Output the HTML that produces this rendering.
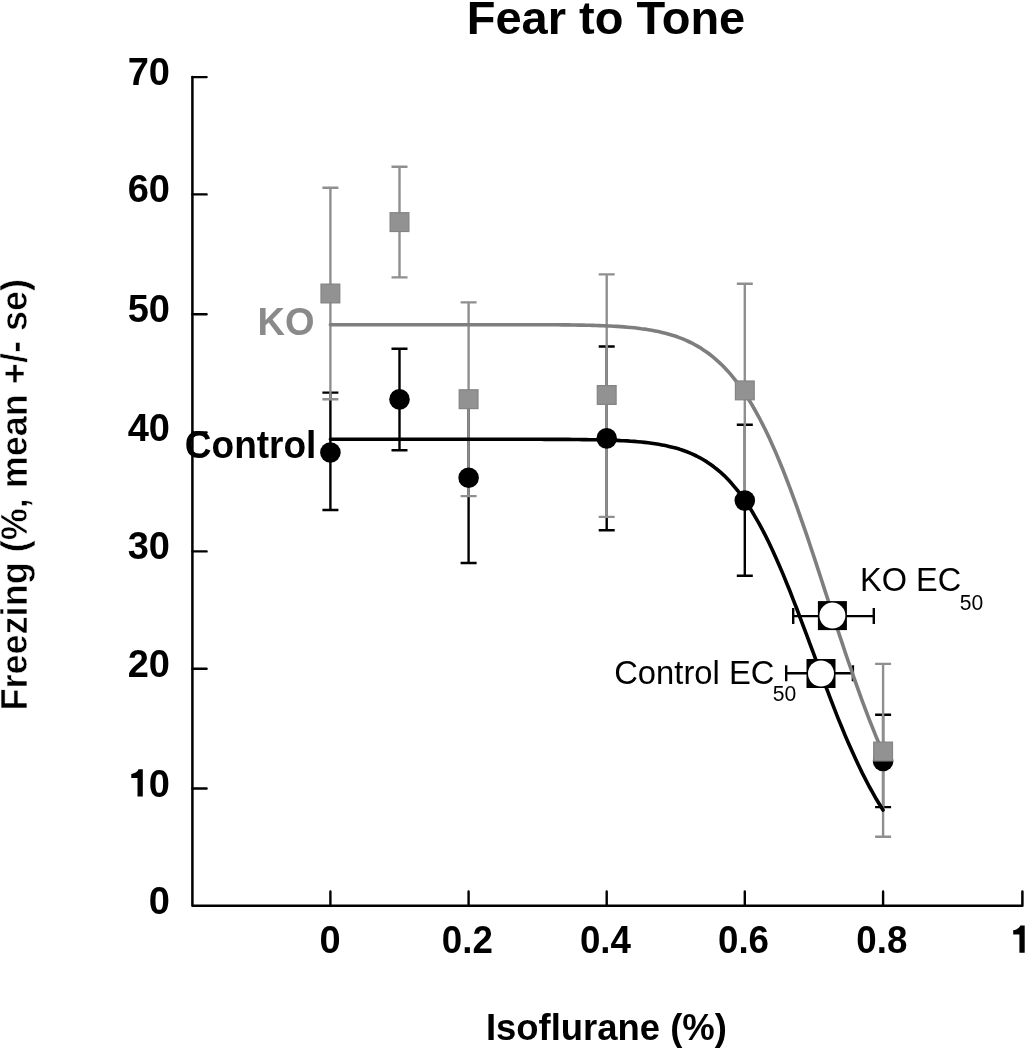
<!DOCTYPE html>
<html><head><meta charset="utf-8"><style>
html,body{margin:0;padding:0;background:#fff;overflow:hidden;}
svg{display:block;filter:blur(0.45px);}
</style></head><body>
<svg width="1027" height="1050" viewBox="0 0 1027 1050">
<path d="M192.4 77.1 V905.7 H1022.4 V891.5" fill="none" stroke="#000" stroke-width="2.5" stroke-linejoin="round" stroke-linecap="round"/>
<path d="M192.4 77.1H206.6 M192.4 194.4H206.6 M192.4 314.2H206.6 M192.4 432.5H206.6 M192.4 551.4H206.6 M192.4 668.8H206.6 M192.4 788.5H206.6 M330.4 905.7V891.5 M468.6 905.7V891.5 M606.7 905.7V891.5 M744.8 905.7V891.5 M883.1 905.7V891.5" fill="none" stroke="#000" stroke-width="2.4" stroke-linecap="round"/>
<path d="M330.4 392.6V510.0M322.4 392.6H338.4M322.4 510.0H338.4M399.5 348.7V450.2M391.5 348.7H407.5M391.5 450.2H407.5M468.6 392.4V563.0M460.6 392.4H476.6M460.6 563.0H476.6M606.7 346.5V530.2M598.7 346.5H614.7M598.7 530.2H614.7M744.8 424.8V575.7M736.8 424.8H752.8M736.8 575.7H752.8M883.1 714.8V807.1M875.1 714.8H891.1M875.1 807.1H891.1" fill="none" stroke="#000" stroke-width="2.4"/>
<path d="M330.4 187.7V399.3M322.4 187.7H338.4M322.4 399.3H338.4M399.5 166.8V277.4M391.5 166.8H407.5M391.5 277.4H407.5M468.6 302.4V496.1M460.6 302.4H476.6M460.6 496.1H476.6M606.7 274.4V516.9M598.7 274.4H614.7M598.7 516.9H614.7M744.8 283.7V497.1M736.8 283.7H752.8M736.8 497.1H752.8M883.1 663.9V836.7M875.1 663.9H891.1M875.1 836.7H891.1" fill="none" stroke="#8f8f8f" stroke-width="2.4"/>
<path d="M793.2 616.1H873.8M793.2 608.1V624.1M873.8 608.1V624.1M786.2 673.3H852.9M786.2 665.3V681.3M852.9 665.3V681.3" fill="none" stroke="#000" stroke-width="2.4"/>
<path d="M330.4,439.3L333.9,439.3L337.3,439.3L340.8,439.3L344.2,439.3L347.7,439.3L351.1,439.3L354.6,439.3L358.0,439.3L361.5,439.3L364.9,439.3L368.4,439.3L371.8,439.3L375.3,439.3L378.8,439.3L382.2,439.3L385.7,439.3L389.1,439.3L392.6,439.3L396.0,439.3L399.5,439.3L402.9,439.3L406.4,439.3L409.8,439.3L413.3,439.3L416.8,439.3L420.2,439.3L423.7,439.3L427.1,439.3L430.6,439.3L434.0,439.3L437.5,439.3L440.9,439.3L444.4,439.3L447.8,439.3L451.3,439.3L454.7,439.3L458.2,439.3L461.7,439.3L465.1,439.3L468.6,439.3L472.0,439.3L475.5,439.3L478.9,439.3L482.4,439.3L485.8,439.3L489.3,439.3L492.7,439.3L496.2,439.3L499.6,439.3L503.1,439.3L506.6,439.3L510.0,439.3L513.5,439.3L516.9,439.3L520.4,439.3L523.8,439.3L527.3,439.3L530.7,439.3L534.2,439.3L537.6,439.3L541.1,439.3L544.5,439.4L548.0,439.4L551.5,439.4L554.9,439.4L558.4,439.4L561.8,439.4L565.3,439.4L568.7,439.4L572.2,439.5L575.6,439.5L579.1,439.5L582.5,439.6L586.0,439.6L589.4,439.7L592.9,439.7L596.4,439.8L599.8,439.9L603.3,439.9L606.7,440.0L610.2,440.1L613.6,440.3L617.1,440.4L620.5,440.6L624.0,440.7L627.4,440.9L630.9,441.2L634.4,441.4L637.8,441.7L641.3,442.0L644.7,442.4L648.2,442.8L651.6,443.2L655.1,443.7L658.5,444.3L662.0,444.9L665.4,445.6L668.9,446.4L672.3,447.2L675.8,448.1L679.3,449.1L682.7,450.3L686.2,451.5L689.6,452.9L693.1,454.4L696.5,456.0L700.0,457.8L703.4,459.8L706.9,461.9L710.3,464.2L713.8,466.8L717.2,469.5L720.7,472.4L724.2,475.6L727.6,479.1L731.1,482.8L734.5,486.8L738.0,491.0L741.4,495.5L744.9,500.4L748.3,505.5L751.8,511.0L755.2,516.8L758.7,522.8L762.1,529.2L765.6,535.9L769.1,543.0L772.5,550.3L776.0,557.9L779.4,565.7L782.9,573.9L786.3,582.2L789.8,590.8L793.2,599.6L796.7,608.5L800.1,617.6L803.6,626.8L807.1,636.1L810.5,645.4L814.0,654.7L817.4,664.1L820.9,673.4L824.3,682.6L827.8,691.7L831.2,700.7L834.7,709.6L838.1,718.3L841.6,726.8L845.0,735.1L848.5,743.2L852.0,751.0L855.4,758.6L858.9,766.0L862.3,773.1L865.8,779.9L869.2,786.5L872.7,792.7L876.1,798.8L879.6,804.5L883.0,810.0" fill="none" stroke="#000" stroke-width="3.6" stroke-linecap="round" stroke-linejoin="round"/>
<path d="M330.4,324.7L333.9,324.7L337.3,324.7L340.8,324.7L344.2,324.7L347.7,324.7L351.1,324.7L354.6,324.7L358.0,324.7L361.5,324.7L364.9,324.7L368.4,324.7L371.8,324.7L375.3,324.7L378.8,324.7L382.2,324.7L385.7,324.7L389.1,324.7L392.6,324.7L396.0,324.7L399.5,324.7L402.9,324.7L406.4,324.7L409.8,324.7L413.3,324.7L416.8,324.7L420.2,324.7L423.7,324.7L427.1,324.7L430.6,324.7L434.0,324.7L437.5,324.7L440.9,324.7L444.4,324.7L447.8,324.7L451.3,324.7L454.7,324.7L458.2,324.7L461.7,324.7L465.1,324.7L468.6,324.7L472.0,324.7L475.5,324.7L478.9,324.7L482.4,324.7L485.8,324.7L489.3,324.7L492.7,324.7L496.2,324.7L499.6,324.7L503.1,324.7L506.6,324.7L510.0,324.7L513.5,324.7L516.9,324.7L520.4,324.7L523.8,324.7L527.3,324.7L530.7,324.7L534.2,324.7L537.6,324.7L541.1,324.7L544.5,324.7L548.0,324.8L551.5,324.8L554.9,324.8L558.4,324.8L561.8,324.9L565.3,324.9L568.7,324.9L572.2,325.0L575.6,325.0L579.1,325.1L582.5,325.1L586.0,325.2L589.4,325.3L592.9,325.4L596.4,325.5L599.8,325.6L603.3,325.7L606.7,325.9L610.2,326.0L613.6,326.2L617.1,326.4L620.5,326.6L624.0,326.9L627.4,327.2L630.9,327.5L634.4,327.8L637.8,328.2L641.3,328.7L644.7,329.1L648.2,329.7L651.6,330.3L655.1,330.9L658.5,331.6L662.0,332.4L665.4,333.3L668.9,334.2L672.3,335.2L675.8,336.3L679.3,337.6L682.7,338.9L686.2,340.4L689.6,342.0L693.1,343.7L696.5,345.6L700.0,347.6L703.4,349.9L706.9,352.2L710.3,354.8L713.8,357.6L717.2,360.6L720.7,363.8L724.2,367.3L727.6,370.9L731.1,374.9L734.5,379.1L738.0,383.6L741.4,388.4L744.9,393.4L748.3,398.8L751.8,404.5L755.2,410.5L758.7,416.8L762.1,423.4L765.6,430.3L769.1,437.6L772.5,445.2L776.0,453.1L779.4,461.3L782.9,469.8L786.3,478.5L789.8,487.6L793.2,496.9L796.7,506.4L800.1,516.2L803.6,526.1L807.1,536.2L810.5,546.5L814.0,556.9L817.4,567.4L820.9,578.0L824.3,588.6L827.8,599.2L831.2,609.9L834.7,620.5L838.1,631.0L841.6,641.4L845.0,651.8L848.5,662.0L852.0,672.0L855.4,681.9L858.9,691.6L862.3,701.1L865.8,710.3L869.2,719.3L872.7,728.1L876.1,736.7L879.6,744.9L883.0,753.0" fill="none" stroke="#7e7e7e" stroke-width="3.6" stroke-linecap="round" stroke-linejoin="round"/>
<circle cx="330.4" cy="452.5" r="10.3"/>
<circle cx="399.5" cy="399.4" r="10.3"/>
<circle cx="468.6" cy="477.7" r="10.3"/>
<circle cx="606.7" cy="438.4" r="10.3"/>
<circle cx="744.8" cy="500.6" r="10.3"/>
<circle cx="883.1" cy="760.9" r="10.3"/>
<rect x="321.0" y="284.1" width="18.8" height="18.8" fill="#929292" stroke="#848484" stroke-width="1.2"/>
<rect x="390.1" y="212.7" width="18.8" height="18.8" fill="#929292" stroke="#848484" stroke-width="1.2"/>
<rect x="459.2" y="389.8" width="18.8" height="18.8" fill="#929292" stroke="#848484" stroke-width="1.2"/>
<rect x="597.3" y="385.6" width="18.8" height="18.8" fill="#929292" stroke="#848484" stroke-width="1.2"/>
<rect x="735.4" y="381.0" width="18.8" height="18.8" fill="#929292" stroke="#848484" stroke-width="1.2"/>
<rect x="873.7" y="742.1" width="18.8" height="18.8" fill="#929292" stroke="#848484" stroke-width="1.2"/>
<rect x="817.9" y="601.1" width="29" height="29"/>
<circle cx="832.4" cy="615.6" r="13" fill="#fff"/>
<rect x="806.5" y="659.0" width="29" height="29"/>
<circle cx="821.0" cy="673.5" r="13" fill="#fff"/>
<g font-family="Liberation Sans" font-weight="bold">
<text x="606" y="34" font-size="47" text-anchor="middle">Fear to Tone</text>
<text x="170.0" y="85.1" font-size="38" text-anchor="end">70</text>
<text x="170.0" y="202.4" font-size="38" text-anchor="end">60</text>
<text x="170.0" y="322.2" font-size="38" text-anchor="end">50</text>
<text x="170.0" y="440.5" font-size="38" text-anchor="end">40</text>
<text x="170.0" y="559.4" font-size="38" text-anchor="end">30</text>
<text x="170.0" y="676.8" font-size="38" text-anchor="end">20</text>
<text x="170.0" y="796.5" font-size="38" text-anchor="end">0</text>
<path transform="translate(142.8 796.5)" d="m0 0V-27.2H-4.3C-5.1 -24.8 -7.6 -23.1 -11.5 -22.6V-18.4H-5.3V0Z"/>
<text x="170.0" y="913.7" font-size="38" text-anchor="end">0</text>
<text x="330.1" y="952.8" font-size="38" text-anchor="middle">0</text>
<text x="467.3" y="952.8" font-size="38" text-anchor="middle" textLength="51" lengthAdjust="spacingAndGlyphs">0.2</text>
<text x="605.4" y="952.8" font-size="38" text-anchor="middle" textLength="51" lengthAdjust="spacingAndGlyphs">0.4</text>
<text x="743.5" y="952.8" font-size="38" text-anchor="middle" textLength="51" lengthAdjust="spacingAndGlyphs">0.6</text>
<text x="881.8" y="952.8" font-size="38" text-anchor="middle" textLength="51" lengthAdjust="spacingAndGlyphs">0.8</text>
<path transform="translate(1024.7 952.8)" d="m0 0V-27.2H-4.3C-5.1 -24.8 -7.6 -23.1 -11.5 -22.6V-18.4H-5.3V0Z"/>
<text x="606.4" y="1040" font-size="37" textLength="241" lengthAdjust="spacingAndGlyphs" text-anchor="middle">Isoflurane (%)</text>
<text transform="translate(27.4,710.5) rotate(-90)" font-size="37" textLength="431.5" lengthAdjust="spacingAndGlyphs" stroke="#fff" stroke-width="0.6">Freezing (%, mean +/- se)</text>
<text x="257.5" y="335.3" font-size="38" fill="#8a8a8a">KO</text>
<text x="184.8" y="457.8" font-size="38" textLength="131.6" lengthAdjust="spacingAndGlyphs">Control</text>
</g>
<g font-family="Liberation Sans">
<text x="860" y="591.3" font-size="32.5">KO EC</text>
<text x="959.8" y="610.0" font-size="22" textLength="23.5" lengthAdjust="spacingAndGlyphs">50</text>
<text x="614.2" y="683.9" font-size="32.5" textLength="160.2" lengthAdjust="spacingAndGlyphs">Control EC</text>
<text x="772.8" y="701.3" font-size="22" textLength="23.5" lengthAdjust="spacingAndGlyphs">50</text>
</g>
</svg>
</body></html>
